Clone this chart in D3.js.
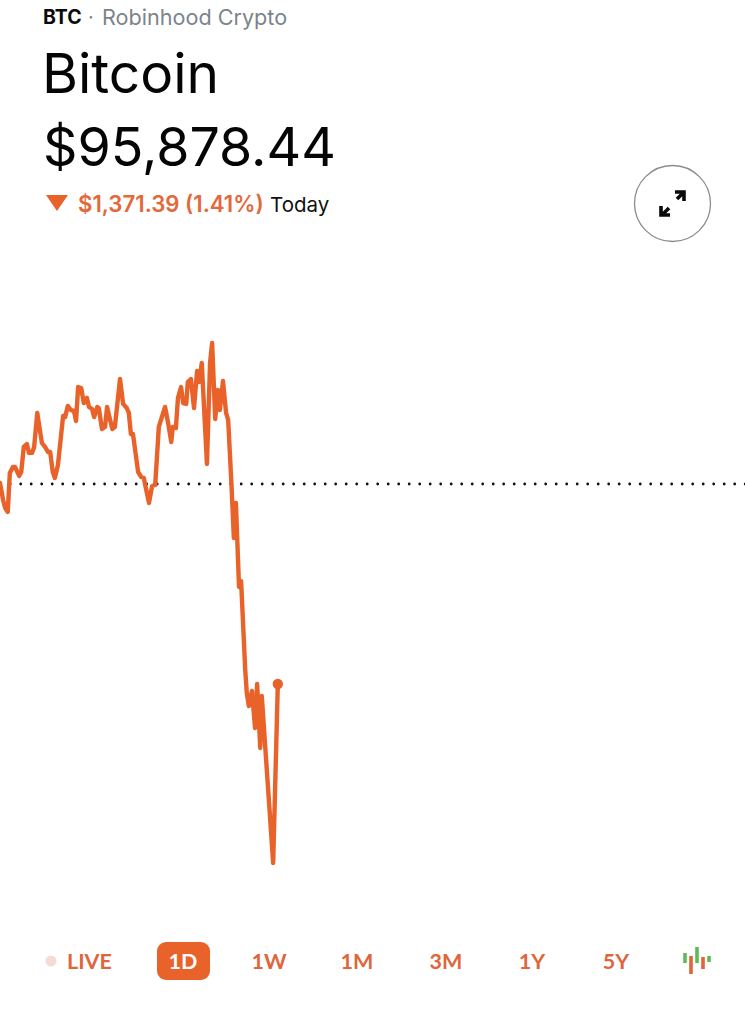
<!DOCTYPE html>
<html><head><meta charset="utf-8">
<script src="https://cdnjs.cloudflare.com/ajax/libs/d3/7.8.5/d3.min.js"></script>
<style>html,body{margin:0;padding:0;background:#fff}svg{display:block}text{font-family:Inter,sans-serif}</style>
</head><body><div id="c"></div>
<script>
const minutes=[0,6,10,15,19,25,29,37,41,46,52,56,62,66,72,75,81,87,93,97,102,106,112,122,126,131,137,143,147,151,157,162,168,172,178,182,188,191,197,203,207,217,222,232,238,245,249,253,257,267,273,278,284,288,294,300,307,319,325,331,334,340,344,350,354,360,363,369,375,381,385,390,400,406,410,416,421,425,431,437,441,447,452,456,462,466,474,477,481,487,493,497,503,506,528,537];
const prices=[97257,97140,97085,97058,97325,97367,97367,97305,97332,97504,97524,97463,97463,97504,97737,97668,97531,97504,97469,97469,97332,97291,97380,97716,97709,97785,97757,97751,97682,97915,97908,97805,97840,97778,97764,97709,97778,97771,97627,97641,97778,97627,97641,97970,97799,97771,97737,97593,97593,97332,97298,97291,97188,97120,97236,97243,97641,97778,97668,97538,97641,97634,97840,97915,97805,97799,97949,97970,97771,98025,97949,98080,97387,98080,98217,97696,97895,97757,97956,97737,97689,97277,96880,97120,96544,96585,95975,95817,95728,95831,95577,95878,95440,95796,94651,95878.44];
const previousClose=97249.83;
const lastPrice=95878.44;
const ranges=["1D","1W","1M","3M","1Y","5Y"];
const candleLow=[963,974,963,969,962];
const candleHigh=[953,956,947,957,956];

const W=745,H=1024,orange="#e8622a";
const svg=d3.select("#c").append("svg").attr("width",W).attr("height",H);
const x=d3.scaleLinear().domain([0,1440]).range([0,W]);
const y=d3.scaleLinear().domain([previousClose,lastPrice]).range([484,684]);

function t(s,px,py,size,weight,fill,anchor){return svg.append("text").text(s).attr("x",px).attr("y",py).attr("font-size",size).attr("font-weight",weight).attr("fill",fill).attr("text-anchor",anchor||"start");}
t("BTC",43,24,19.5,700,"#0b0b0b");
t("·",88,24,20,400,"#7b848b");
t("Robinhood Crypto",102,25,21.6,400,"#7b848b");
t("Bitcoin",42,93,55,400,"#050505");
t("$95,878.44",43,166,53.7,400,"#050505");
svg.append("path").attr("d","M46,195L68,195L57,211Z").attr("fill",orange);
t("$1,371.39 (1.41%)",78,212,22.2,600,"#e3683a");
t("Today",270,212,20.5,400,"#111");

// expand button
svg.append("circle").attr("cx",672.5).attr("cy",203.5).attr("r",38).attr("fill","#fff").attr("stroke","#8c8c8c").attr("stroke-width",1.3);
svg.append("path").attr("d","M662,215L669,208M677,199L683,193M675,192L684,192L684,201M661,206L661,215L670,215").attr("fill","none").attr("stroke","#0a0a0a").attr("stroke-width",3.6);

// baseline
svg.append("line").attr("x1",-0.3).attr("x2",W+5).attr("y1",y(previousClose)).attr("y2",y(previousClose)).attr("stroke","#111").attr("stroke-width",2.8).attr("stroke-linecap","round").attr("stroke-dasharray","0 10.5");

// price line
const line=d3.line().x((d,i)=>x(minutes[i])).y(d=>y(d));
svg.append("path").datum(prices).attr("d",line).attr("fill","none").attr("stroke",orange).attr("stroke-width",4.4).attr("stroke-linejoin","round").attr("stroke-linecap","round");
svg.append("circle").attr("cx",x(minutes[minutes.length-1])).attr("cy",y(lastPrice)).attr("r",5.2).attr("fill",orange);

// range selector
const btnFont="Lato, sans-serif";
svg.append("circle").attr("cx",51).attr("cy",961).attr("r",5.5).attr("fill","#f3dcd3");
t("LIVE",67,969,21.5,700,"#e0653a").style("font-family",btnFont);
svg.append("rect").attr("x",157).attr("y",942).attr("width",53).attr("height",38).attr("rx",9).attr("fill",orange);
const rangeX=[183,269,357,446,532,616];
ranges.forEach((r,i)=>t(r,rangeX[i],969,21.5,700,i===0?"#fff":"#e0653a","middle").style("font-family",btnFont));

// candlestick icon
const candleX=d3.scalePoint().domain(d3.range(5)).range([685,709]);
candleLow.forEach((lo,i)=>svg.append("rect").attr("x",candleX(i)-1.8).attr("y",candleHigh[i]).attr("width",3.6).attr("height",lo-candleHigh[i]).attr("fill",i%2?"#e0653a":"#5fbb55"));
</script></body></html>
